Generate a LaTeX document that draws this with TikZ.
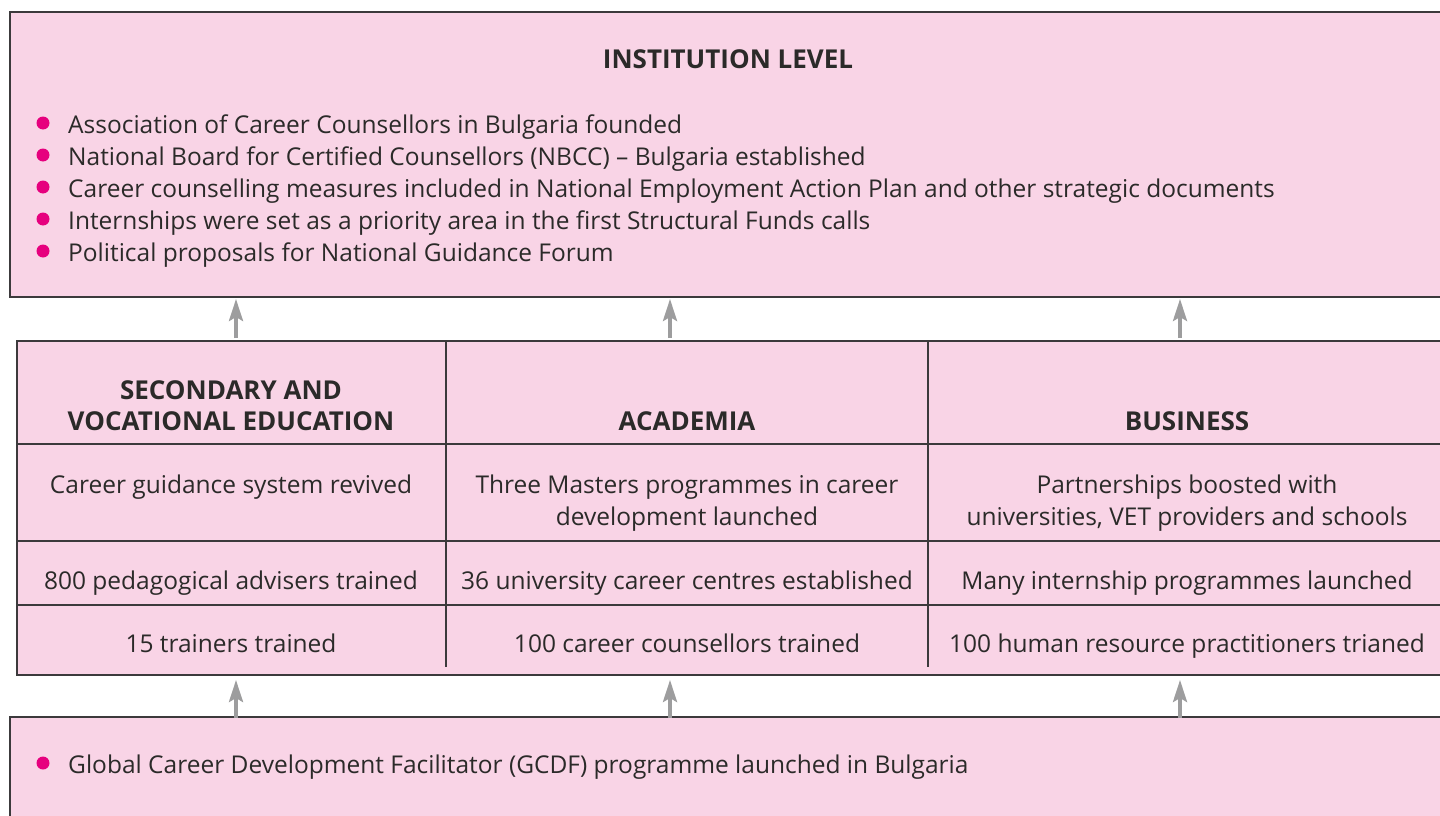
\documentclass[tikz,border=0pt]{standalone}
\usepackage{fontspec}
\setmainfont{Open Sans}
\usetikzlibrary{arrows.meta,calc,positioning}

\definecolor{CGPink}{RGB}{249,212,230}
\definecolor{CGMagenta}{RGB}{230,0,126}
\definecolor{CGText}{RGB}{43,42,41}
\definecolor{CGLine}{RGB}{60,58,60}
\definecolor{CGArrow}{RGB}{157,157,158}

\newcommand{\CGFontSize}{\fontsize{24.5}{32}\selectfont}
\newcommand{\CGHeadSize}{\fontsize{26}{31}\selectfont}
\newcommand{\CGRight}{1452}

\tikzset{
  box/.style = {draw=CGLine, line width=1.4pt, fill=CGPink},
  rule/.style = {draw=CGLine, line width=1.2pt},
  head/.style = {font=\CGHeadSize\bfseries, text=CGText, align=center, inner sep=0pt, anchor=base},
  cell/.style = {font=\CGFontSize, text=CGText, align=center, inner sep=0pt, anchor=base},
  item/.style = {font=\CGFontSize, text=CGText, inner sep=0pt, anchor=base west},
  dot/.style = {circle, fill=CGMagenta, inner sep=0pt, minimum size=13pt},
  up/.style = {draw=CGArrow, line width=3.5pt, -{Stealth[length=22pt,width=14pt,inset=4pt]}}
}

\begin{document}
\begin{tikzpicture}[x=1pt,y=-1pt]
\useasboundingbox (0,0) rectangle (1440,816);
\clip (0,0) rectangle (1440,816);

% institution level
\draw [box] (10,12) rectangle (\CGRight,297);
\node [head] (inst) at (728,69) {INSTITUTION LEVEL};
\foreach \txt [count=\i] in {
  {Association of Career Counsellors in Bulgaria founded},
  {National Board for Certified Counsellors (NBCC) – Bulgaria established},
  {Career counselling measures included in National Employment Action Plan and other strategic documents},
  {Internships were set as a priority area in the first Structural Funds calls},
  {Political proposals for National Guidance Forum}}{
  \node [dot] (idot\i) at (43,91+32*\i) {};
  \node [item] (item\i) at (68,101+32*\i) {\txt};
}

% sectors
\draw [box] (17,341) rectangle (\CGRight,675);
\foreach \y in {444,541,605}
  \draw [rule] (17,\y) -- (\CGRight,\y);
\foreach \x in {446,928}
  \draw [rule] (\x,341) -- (\x,667);

\node [head] (sec)  at (231,430) {SECONDARY AND\\VOCATIONAL EDUCATION};
\node [head] (acad) at (687,430) {ACADEMIA};
\node [head] (bus)  at (1187,430) {BUSINESS};

\node [cell] (sec1)  at (231,493) {Career guidance system revived};
\node [cell] (acad1) at (687,525) {Three Masters programmes in career\\development launched};
\node [cell] (bus1)  at (1187,525) {Partnerships boosted with\\universities, VET providers and schools};

\node [cell] (sec2)  at (231,589) {800 pedagogical advisers trained};
\node [cell] (acad2) at (687,589) {36 university career centres established};
\node [cell] (bus2)  at (1187,589) {Many internship programmes launched};

\node [cell] (sec3)  at (231,652) {15 trainers trained};
\node [cell] (acad3) at (687,652) {100 career counsellors trained};
\node [cell] (bus3)  at (1187,652) {100 human resource practitioners trianed};

% gcdf
\draw [box] (10,717) rectangle (\CGRight,830);
\node [dot] (gdot) at (43,763) {};
\node [item] (gcdf) at (68,773) {Global Career Development Facilitator (GCDF) programme launched in Bulgaria};

% arrows
\foreach \x [count=\i] in {236,670,1180}{
  \coordinate (inst-s\i) at (\x,299);
  \coordinate (tab-n\i) at (\x,338);
  \coordinate (tab-s\i) at (\x,680);
  \coordinate (gcdf-n\i) at (\x,718);
  \draw [up] (tab-n\i) -- (inst-s\i);
  \draw [up] (gcdf-n\i) -- (tab-s\i);
}
\end{tikzpicture}
\end{document}
